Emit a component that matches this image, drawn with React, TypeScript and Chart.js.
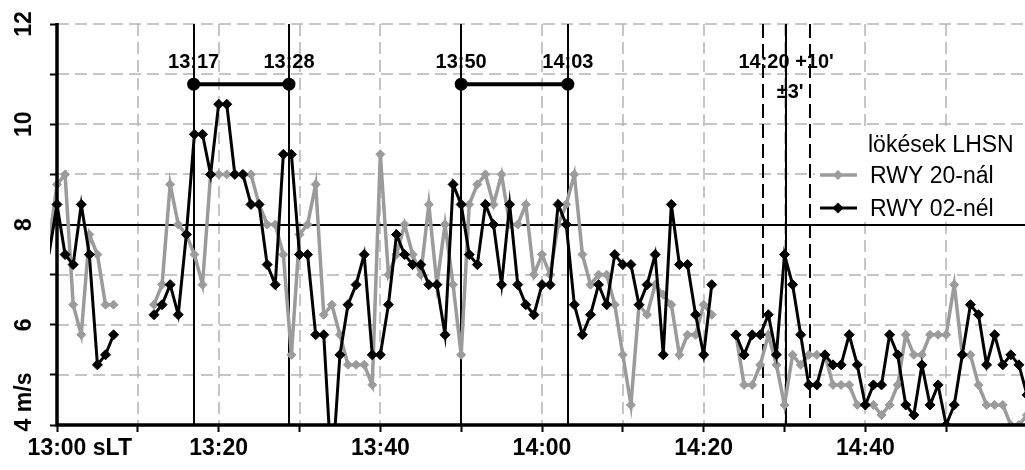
import React, { useEffect, useRef } from 'react';
import { Chart, registerables } from 'chart.js';

Chart.register(...registerables);

// minutes after 13:00 sLT; first value belongs to 12:59 (only its connecting segment shows)
const FIRST_MINUTE = -1;

// RWY 20-nál (grey), one gust value per minute
const rwy20: (number | null)[] = [
  7.6,
  8.8, 9.0, 6.4, 5.8, 7.8, 7.4, 6.4, 6.4,
  null, null, null, null,
  6.4, 6.8, 8.8, 8.0, 7.8, 7.4, 6.8, 9.0, 9.0, 9.0,
  9.0, 9.0, 9.0, 8.4, 8.0, 8.0, 7.4, 5.4, 7.8, 8.0,
  8.8, 6.2, 6.4, 5.8, 5.2, 5.2, 5.2, 4.8, 9.4, 7.0,
  7.4, 8.0, 7.4, 7.0, 8.4, 6.8, 8.0, 6.8, 5.4, 8.4,
  8.8, 9.0, 8.4, 9.0, 8.0, 8.0, 8.4, 7.0, 7.4, 7.0,
  8.0, 8.4, 9.0, 7.4, 6.8, 7.0, 7.0, 6.4, 5.4, 4.4,
  6.4, 6.2, 6.8, 6.6, 6.4, 5.4, 5.8, 5.8, 6.4, 6.2,
  null, null,
  5.8, 4.8, 4.8, 5.2, 5.8, 5.2, 4.4, 5.4, 5.2, 5.4,
  5.4, 5.4, 4.8, 4.8, 4.8, 4.4, 4.4, 4.4, 4.2, 4.4,
  4.8, 5.8, 5.4, 5.4, 5.8, 5.8, 5.8, 6.8, 5.4, 5.4,
  4.8, 4.4, 4.4, 4.4, 4.0, 4.0, 4.2,
];

// RWY 02-nél (black)
const rwy02: (number | null)[] = [
  7.4,
  8.4, 7.4, 7.2, 8.4, 7.4, 5.2, 5.4, 5.8,
  null, null, null, null,
  6.2, 6.4, 6.8, 6.2, 7.8, 9.8, 9.8, 9.0, 10.4, 10.4,
  9.0, 9.0, 8.4, 8.4, 7.2, 6.8, 9.4, 9.4, 7.4, 7.4,
  5.8, 5.8, 3.0, 5.4, 6.4, 6.8, 7.4, 5.4, 5.4, 6.4,
  7.8, 7.4, 7.2, 7.2, 6.8, 6.8, 5.8, 8.8, 8.4, 7.4,
  7.2, 8.4, 8.0, 6.8, 8.4, 6.8, 6.4, 6.2, 6.8, 6.8,
  8.4, 8.0, 6.4, 5.8, 6.2, 6.8, 6.4, 7.4, 7.2, 7.2,
  6.4, 6.8, 7.4, 5.4, 8.4, 7.2, 7.2, 6.2, 5.4, 6.8,
  null, null,
  5.8, 5.4, 5.8, 5.8, 6.2, 5.4, 7.4, 6.8, 5.8, 4.8,
  4.8, 5.4, 5.2, 5.2, 5.8, 5.2, 4.4, 4.8, 4.8, 5.8,
  5.4, 4.4, 4.2, 5.2, 4.4, 4.8, 4.0, 4.4, 5.4, 6.4,
  6.2, 5.2, 5.8, 5.2, 5.4, 5.2, 4.6,
];

const X_MIN = 0;
const X_MAX = 120;
const Y_MIN = 4;
const Y_MAX = 12;
const X_LABEL_MINUTES = [0, 20, 40, 60, 80, 100];
const X_LABELS = ['13:00', '13:20', '13:40', '14:00', '14:20', '14:40'];
const X_FIRST_SUFFIX = ' sLT';
const Y_LABEL_VALUES = [12, 10, 8, 6, 4];
const Y_LABELS = ['12', '10', '8', '6', '4'];
const Y_FIRST_SUFFIX = ' m/s';
const THRESHOLD = 8;

// event markers
const EVENT_MINUTES = [16.9, 28.7, 50, 63.2];
const EVENT_LABELS = ['13:17', '13:28', '13:50', '14:03'];
const BAR_LEVEL = 10.8;
const FORECAST_MINUTE = 90.2;
const FORECAST_LABEL = "14:20 +10'";
const FORECAST_TOL_LABEL = "±3'";
const FORECAST_BOUNDS = [87.3, 93.1];

const LEGEND_TITLE = 'lökések LHSN';
const SERIES_NAMES = ['RWY 20-nál', 'RWY 02-nél'];

const GREY = '#9b9b9b';
const BLACK = '#000000';
const GRID = '#b4b4b4';
const FONT = '"Liberation Sans", Arial, sans-serif';

export default function App() {
  const ref = useRef<HTMLCanvasElement>(null);

  useEffect(() => {
    const canvas = ref.current;
    if (!canvas) return;
    const toPts = (arr: (number | null)[]) =>
      arr.map((v, i) => ({ x: FIRST_MINUTE + i, y: v }));
    const radius = (r: number) => (c: any) => (c.raw && c.raw.x < X_MIN ? 0 : r);

    const decor = {
      id: 'decor',
      beforeDatasetsDraw(chart: any) {
        const { ctx, chartArea: a, scales } = chart;
        const xs = scales.x;
        const ys = scales.y;
        ctx.save();
        ctx.strokeStyle = GRID;
        ctx.lineWidth = 1.5;
        ctx.setLineDash([12, 6]);
        for (let v = Y_MIN + 1; v <= Y_MAX; v++) {
          if (v === THRESHOLD) continue;
          const py = Math.round(ys.getPixelForValue(v));
          ctx.beginPath();
          ctx.moveTo(a.left, py);
          ctx.lineTo(a.right, py);
          ctx.stroke();
        }
        for (let m = X_MIN + 10; m < X_MAX; m += 10) {
          const px = Math.round(xs.getPixelForValue(m));
          ctx.beginPath();
          ctx.moveTo(px, a.top);
          ctx.lineTo(px, a.bottom);
          ctx.stroke();
        }
        ctx.setLineDash([]);
        // threshold
        ctx.strokeStyle = BLACK;
        ctx.lineWidth = 2;
        const ty = Math.round(ys.getPixelForValue(THRESHOLD));
        ctx.beginPath();
        ctx.moveTo(a.left, ty);
        ctx.lineTo(a.right, ty);
        ctx.stroke();
        // event lines
        for (const m of [...EVENT_MINUTES, FORECAST_MINUTE]) {
          const px = Math.round(xs.getPixelForValue(m));
          ctx.beginPath();
          ctx.moveTo(px, a.top);
          ctx.lineTo(px, a.bottom);
          ctx.stroke();
        }
        ctx.setLineDash([14, 6]);
        for (const m of FORECAST_BOUNDS) {
          const px = Math.round(xs.getPixelForValue(m));
          ctx.beginPath();
          ctx.moveTo(px, a.top);
          ctx.lineTo(px, a.bottom);
          ctx.stroke();
        }
        ctx.restore();
      },
      afterDatasetsDraw(chart: any) {
        const { ctx, chartArea: a, scales } = chart;
        const xs = scales.x;
        const ys = scales.y;
        ctx.save();
        // axes
        ctx.strokeStyle = BLACK;
        ctx.lineWidth = 3.5;
        ctx.beginPath();
        ctx.moveTo(a.left, a.top - 1);
        ctx.lineTo(a.left, a.bottom);
        ctx.lineTo(a.right + 20, a.bottom);
        ctx.stroke();

        // annotation labels
        ctx.fillStyle = BLACK;
        ctx.font = `bold 20px ${FONT}`;
        ctx.textAlign = 'center';
        ctx.textBaseline = 'alphabetic';
        EVENT_MINUTES.forEach((m, i) => {
          ctx.fillText(EVENT_LABELS[i], xs.getPixelForValue(m), a.top + 44);
        });
        ctx.fillText(FORECAST_LABEL, xs.getPixelForValue(FORECAST_MINUTE), a.top + 44);
        ctx.fillText(FORECAST_TOL_LABEL, xs.getPixelForValue(FORECAST_MINUTE) + 4, a.top + 74);

        // x labels
        ctx.font = `bold 23px ${FONT}`;
        X_LABEL_MINUTES.forEach((m, i) => {
          const px = xs.getPixelForValue(m);
          if (i === 0) {
            const w = ctx.measureText(X_LABELS[0]).width;
            ctx.textAlign = 'left';
            ctx.fillText(X_LABELS[0] + X_FIRST_SUFFIX, px - w / 2, a.bottom + 30);
          } else {
            ctx.textAlign = 'center';
            ctx.fillText(X_LABELS[i], px, a.bottom + 30);
          }
        });

        // y labels (rotated)
        Y_LABEL_VALUES.forEach((v, i) => {
          const py = ys.getPixelForValue(v);
          ctx.save();
          ctx.translate(31, py);
          ctx.rotate(-Math.PI / 2);
          const isFirst = v === Y_MIN;
          const w = ctx.measureText(Y_LABELS[i]).width;
          ctx.textAlign = 'left';
          ctx.fillText(Y_LABELS[i] + (isFirst ? Y_FIRST_SUFFIX : ''), -w / 2, 0);
          ctx.restore();
        });

        // legend
        const lx = 815;
        const ly = 127;
        ctx.fillStyle = '#ffffff';
        ctx.fillRect(lx, ly, 230, 95);
        ctx.fillStyle = BLACK;
        ctx.font = `23px ${FONT}`;
        ctx.textAlign = 'left';
        ctx.fillText(LEGEND_TITLE, lx + 53, ly + 25);
        const entries = [
          { color: GREY, width: 3.5, r: 4.5, y: ly + 48 },
          { color: BLACK, width: 3, r: 5, y: ly + 81 },
        ];
        entries.forEach((e, i) => {
          ctx.strokeStyle = e.color;
          ctx.lineWidth = e.width;
          ctx.beginPath();
          ctx.moveTo(lx + 5, e.y);
          ctx.lineTo(lx + 42, e.y);
          ctx.stroke();
          ctx.fillStyle = e.color;
          ctx.beginPath();
          ctx.moveTo(lx + 23, e.y - e.r - 0.5);
          ctx.lineTo(lx + 23 + e.r + 0.5, e.y);
          ctx.lineTo(lx + 23, e.y + e.r + 0.5);
          ctx.lineTo(lx + 23 - e.r - 0.5, e.y);
          ctx.closePath();
          ctx.fill();
          ctx.fillStyle = BLACK;
          ctx.fillText(SERIES_NAMES[i], lx + 55, e.y + 8);
        });
        ctx.restore();
      },
    };

    const bar = (a: number, b: number) => ({
      label: 'bar',
      data: [
        { x: a, y: BAR_LEVEL },
        { x: b, y: BAR_LEVEL },
      ],
      borderColor: BLACK,
      backgroundColor: BLACK,
      borderWidth: 4,
      pointRadius: 4.5,
      pointStyle: 'circle',
      order: 0,
    });

    const chart = new Chart(canvas, {
      type: 'line',
      data: {
        datasets: [
          {
            label: SERIES_NAMES[0],
            data: toPts(rwy20),
            borderColor: GREY,
            backgroundColor: GREY,
            borderWidth: 3.5,
            pointStyle: 'rectRot',
            pointRadius: radius(4.5),
            pointBorderWidth: 1,
            spanGaps: false,
            tension: 0,
            order: 2,
            clip: { left: 7, top: 0, right: 0, bottom: 0 },
          },
          {
            label: SERIES_NAMES[1],
            data: toPts(rwy02),
            borderColor: BLACK,
            backgroundColor: BLACK,
            borderWidth: 3,
            pointStyle: 'rectRot',
            pointRadius: radius(5),
            pointBorderWidth: 1,
            spanGaps: false,
            tension: 0,
            order: 1,
            clip: { left: 7, top: 0, right: 0, bottom: 0 },
          },
          bar(EVENT_MINUTES[0], EVENT_MINUTES[1]),
          bar(EVENT_MINUTES[2], EVENT_MINUTES[3]),
        ] as any,
      },
      options: {
        animation: false,
        responsive: false,
        devicePixelRatio: 1,
        layout: { padding: { left: 0, top: 24, right: 13, bottom: 0 } },
        plugins: { legend: { display: false }, tooltip: { enabled: false } },
        events: [],
        scales: {
          x: {
            type: 'linear',
            min: X_MIN,
            max: X_MAX,
            ticks: { display: false, stepSize: 10 },
            grid: {
              display: true,
              drawOnChartArea: false,
              drawTicks: true,
              tickLength: 7,
              tickColor: BLACK,
              tickWidth: 2,
            },
            border: { display: false },
            afterFit: (s: any) => {
              s.height = 45;
            },
          },
          y: {
            type: 'linear',
            min: Y_MIN,
            max: Y_MAX,
            ticks: { display: false, stepSize: 1 },
            grid: {
              display: true,
              drawOnChartArea: false,
              drawTicks: true,
              tickLength: 7,
              tickColor: BLACK,
              tickWidth: 2,
            },
            border: { display: false },
            afterFit: (s: any) => {
              s.width = 57;
            },
          },
        },
      } as any,
      plugins: [decor],
    });
    return () => chart.destroy();
  }, []);

  return (
    <div
      style={{
        position: 'fixed',
        left: 0,
        top: 0,
        width: 1025,
        height: 470,
        overflow: 'hidden',
        background: '#fff',
      }}
    >
      <canvas ref={ref} width={1040} height={470} style={{ width: 1040, height: 470, display: 'block' }} />
    </div>
  );
}
